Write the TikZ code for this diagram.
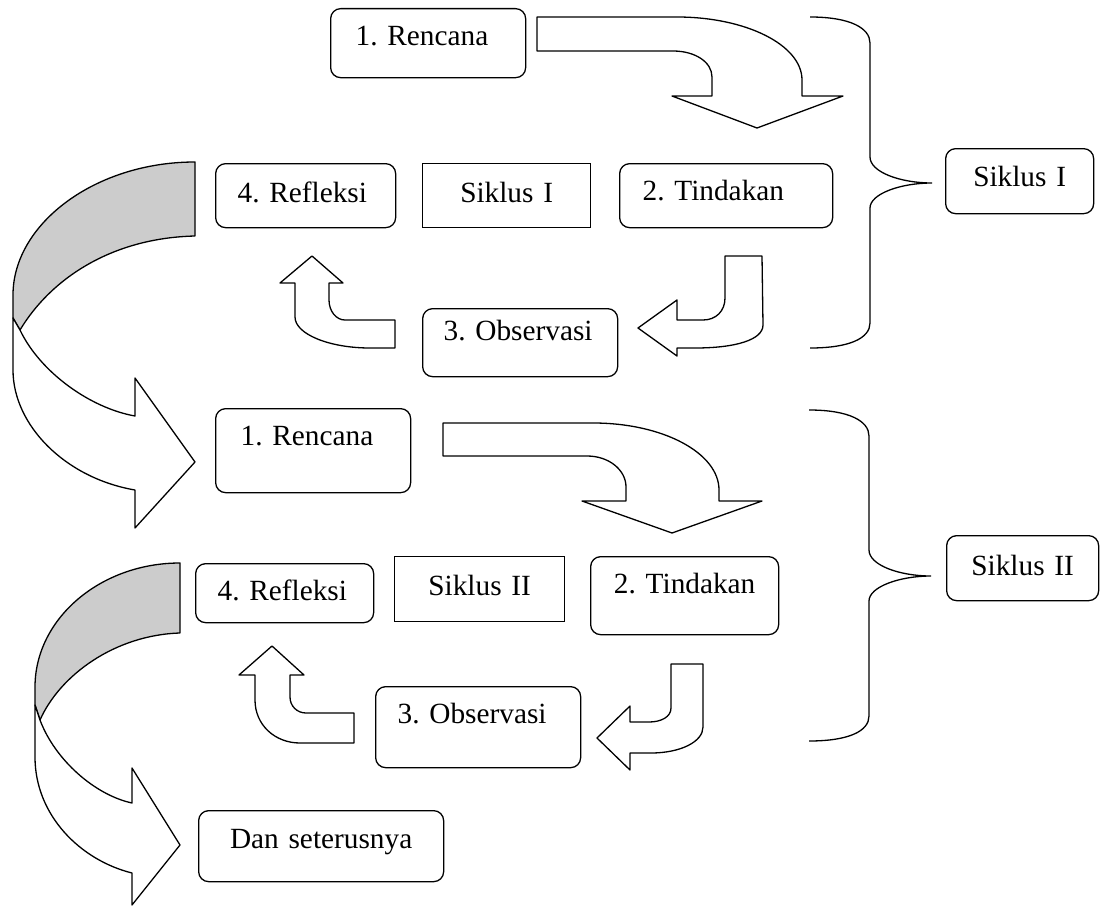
\documentclass[tikz,border=0pt]{standalone}
\usepackage{fontspec}
\setmainfont{Liberation Serif}
\frenchspacing
\newcommand\tx{\fontsize{29.3}{34}\selectfont}
\tikzset{
  tb/.style={draw, line width=1.3pt, inner sep=0pt, anchor=north west, font=\tx},
  rb/.style={tb, rounded corners=10pt},
  shp/.style={draw, line width=1.3pt, line join=round, fill=white},
  band/.style={draw, line width=1.3pt, line join=round, fill=gray!40},
  brace/.style={draw, line width=1.3pt},
}
\begin{document}
\begin{tikzpicture}[x=1pt,y=-1pt]
\useasboundingbox (0,0) rectangle (1100,907);

% ---------- Siklus I ----------
\node[rb, text width=195pt, text height=37pt, text depth=32pt, align=left] (r1) at (330,8) {\hspace*{25pt}1. Rencana};
\node[rb, text width=180pt, text height=39pt, text depth=25pt, align=left] (f1) at (215,163) {\hspace*{22pt}4. Refleksi};
\node[tb, text width=168pt, text height=39pt, text depth=25pt, align=center] (s1) at (422,163) {Siklus I};
\node[rb, text width=213pt, text height=37pt, text depth=27pt, align=left] (t1) at (619,163) {\hspace*{23pt}2. Tindakan};
\node[rb, text width=195pt, text height=32pt, text depth=36pt, align=left] (o1) at (422,308) {\hspace*{21pt}3. Observasi};
\node[rb, text width=148pt, text height=38pt, text depth=27pt, align=center] (c1) at (945,148) {Siklus I};

% bent arrow Rencana -> Tindakan
\path[shp] (537,17) -- (677,17) .. controls (746,17) and (802,45) .. (802,80) -- (802,96) -- (843,96) -- (757,128) -- (672,96) -- (712,96) -- (712,77) .. controls (712,62) and (695,51) .. (673,51) -- (537,51) -- cycle;
% Tindakan -> Observasi
\path[shp] (725,256) -- (762,256) -- (763,325) .. controls (763,340) and (735,348) .. (695,348) -- (677,348) -- (677,356) -- (638,328) -- (677,300) -- (677,320) -- (703,320) .. controls (716,320) and (725,311) .. (725,298) -- cycle;
% Observasi -> Refleksi
\path[shp] (312,256) -- (343,283) -- (329,283) -- (329,300) .. controls (329,311) and (336,320) .. (345,320) -- (395,320) -- (395,348) -- (370,348) .. controls (329,348) and (295,334) .. (295,317) -- (295,283) -- (280,283) -- cycle;

% curved arrow to Siklus II
\path[band] (195,162) .. controls (95,162) and (13,224) .. (13,295) -- (13,318) -- (20,330) .. controls (50,280) and (110,238) .. (195,236) -- cycle;
\path[shp] (20,330) .. controls (40,372) and (90,408) .. (135,416) -- (135,378) -- (195,462) -- (135,528) -- (135,490) .. controls (65,478) and (13,425) .. (13,370) -- (13,318) -- cycle;

% brace I
\path[brace] (810,17) .. controls (850,17) and (870,28) .. (870,43) -- (870,157) .. controls (870,172) and (900,183) .. (932,183) .. controls (900,183) and (870,194) .. (870,208) -- (870,323) .. controls (870,338) and (850,348) .. (810,348);

% ---------- Siklus II ----------
\node[rb, text width=195pt, text height=37pt, text depth=47pt, align=left] (r2) at (215,408) {\hspace*{25pt}1. Rencana};
\node[rb, text width=178pt, text height=37pt, text depth=22pt, align=left] (f2) at (195,563) {\hspace*{22pt}4. Refleksi};
\node[tb, text width=170pt, text height=39pt, text depth=26pt, align=center] (s2) at (394,556) {Siklus II};
\node[rb, text width=188pt, text height=37pt, text depth=41pt, align=center] (t2) at (590,556) {2. Tindakan};
\node[rb, text width=205pt, text height=37pt, text depth=44pt, align=left] (o2) at (375,686) {\hspace*{22pt}3. Observasi};
\node[rb, text width=152pt, text height=40pt, text depth=25pt, align=center] (c2) at (946,535) {Siklus II};
\node[rb, text width=245pt, text height=38pt, text depth=33pt, align=center] (dn) at (198,810) {Dan seterusnya};

% bent arrow Rencana -> Tindakan
\path[shp] (443,423) -- (593,423) .. controls (663,423) and (719,453) .. (719,490) -- (719,501) -- (762,501) -- (672,533) -- (582,501) -- (626,501) -- (626,487) .. controls (626,470) and (609,456) .. (587,456) -- (443,456) -- cycle;
% Tindakan -> Observasi
\path[shp] (671,664) -- (703,664) -- (703,727) .. controls (703,742) and (680,753) .. (651,753) -- (630,753) -- (630,770) -- (597,738) -- (630,706) -- (630,722) -- (649,722) .. controls (661,722) and (671,717) .. (671,708) -- cycle;
% Observasi -> Refleksi
\path[shp] (272,646) -- (304,675) -- (290,675) -- (290,697) .. controls (290,706) and (297,713) .. (306,713) -- (354,713) -- (354,743) -- (300,743) .. controls (275,743) and (255,725) .. (255,700) -- (255,675) -- (239,675) -- cycle;

% curved arrow to Dan seterusnya
\path[band] (180,563) .. controls (100,563) and (35,619) .. (35,687) -- (35,705) -- (40,720) .. controls (60,675) and (115,635) .. (180,633) -- cycle;
\path[shp] (40,720) .. controls (55,760) and (95,795) .. (132,803) -- (132,768) -- (180,845) -- (132,905) -- (132,873) .. controls (80,860) and (35,815) .. (35,757) -- (35,705) -- cycle;

% brace II
\path[brace] (809,410) .. controls (849,410) and (869,421) .. (869,436) -- (869,550) .. controls (869,565) and (899,576) .. (931,576) .. controls (899,576) and (869,587) .. (869,601) -- (869,716) .. controls (869,731) and (849,741) .. (809,741);
\end{tikzpicture}
\end{document}
